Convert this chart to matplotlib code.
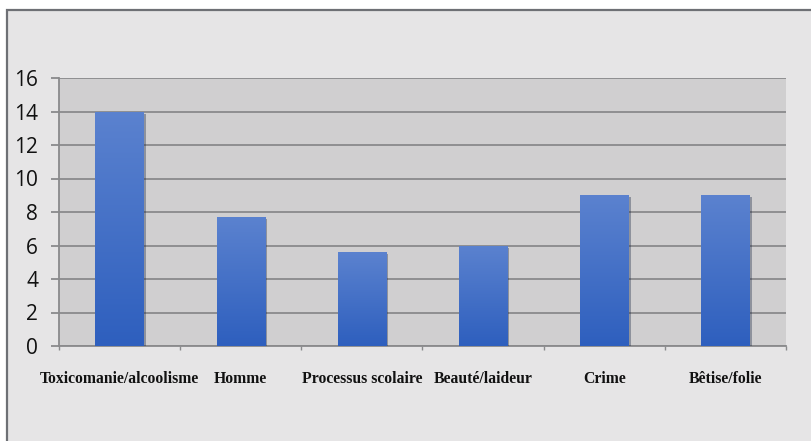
import numpy as np
import matplotlib
matplotlib.use("Agg")
import matplotlib.pyplot as plt
from matplotlib.patches import Rectangle
from matplotlib.colors import LinearSegmentedColormap
import matplotlib.patheffects as pe

categories = ["Toxicomanie/alcoolisme", "Homme", "Processus scolaire",
              "Beauté/laideur", "Crime", "Bêtise/folie"]
values = [14, 7.7, 5.6, 6, 9, 9]
yticks = [0, 2, 4, 6, 8, 10, 12, 14, 16]

fig = plt.figure(figsize=(8.12, 4.41), dpi=100)
fig.patch.set_facecolor("white")

# outer chart frame
frame = Rectangle((7 / 812, -0.1), 1.1, 1 - 10 / 441 + 0.1, transform=fig.transFigure,
                  facecolor="#e6e5e6", edgecolor="#6e7075", linewidth=1.6, zorder=-10)
fig.patches.append(frame)

ax = fig.add_axes([59 / 812, 1 - 346 / 441, 727 / 812, 268 / 441])
ax.set_facecolor("#d0cfd0")

x = np.arange(len(categories))
bars = ax.bar(x, values, width=0.4, color="#3f6cc6", zorder=3,
              path_effects=[pe.SimplePatchShadow(offset=(1.5, -1.5), alpha=0.35), pe.Normal()])

# vertical gradient on each bar
cmap = LinearSegmentedColormap.from_list("bar", ["#2e5fbe", "#5b82cf"])
grad = np.linspace(0, 1, 256).reshape(-1, 1)
for b in bars:
    x0, y0 = b.get_x(), b.get_y()
    w, h = b.get_width(), b.get_height()
    im = ax.imshow(grad, cmap=cmap, origin="lower", aspect="auto",
                   extent=(x0, x0 + w, y0, y0 + h), zorder=4)
    im.set_clip_path(b)

ax.set_xlim(-0.5, len(categories) - 0.5)
ax.set_ylim(0, 16)
ax.set_yticks(yticks)
ax.set_yticklabels([str(t) for t in yticks], fontsize=15, family="Open Sans", color="#111111")
ax.yaxis.grid(True, color="#8a8a8c", linewidth=1.3, zorder=1)
ax.set_axisbelow(True)
ax.tick_params(axis="y", length=6, width=1.3, color="#8a8a8c", pad=9)

ax.set_xticks(x)
ax.set_xticklabels(categories, fontsize=11.3, family="Liberation Serif", fontweight="bold",
                   color="#111111")
ax.tick_params(axis="x", length=0, pad=18)
ax.set_xticks(np.arange(-0.5, len(categories), 1), minor=True)
ax.tick_params(axis="x", which="minor", length=3, width=1, color="#8a8a8c")

for s in ["top", "right"]:
    ax.spines[s].set_visible(False)
for s in ["left", "bottom"]:
    ax.spines[s].set_color("#8a8a8c")
    ax.spines[s].set_linewidth(1.3)

fig.savefig("out.png", dpi=100)
